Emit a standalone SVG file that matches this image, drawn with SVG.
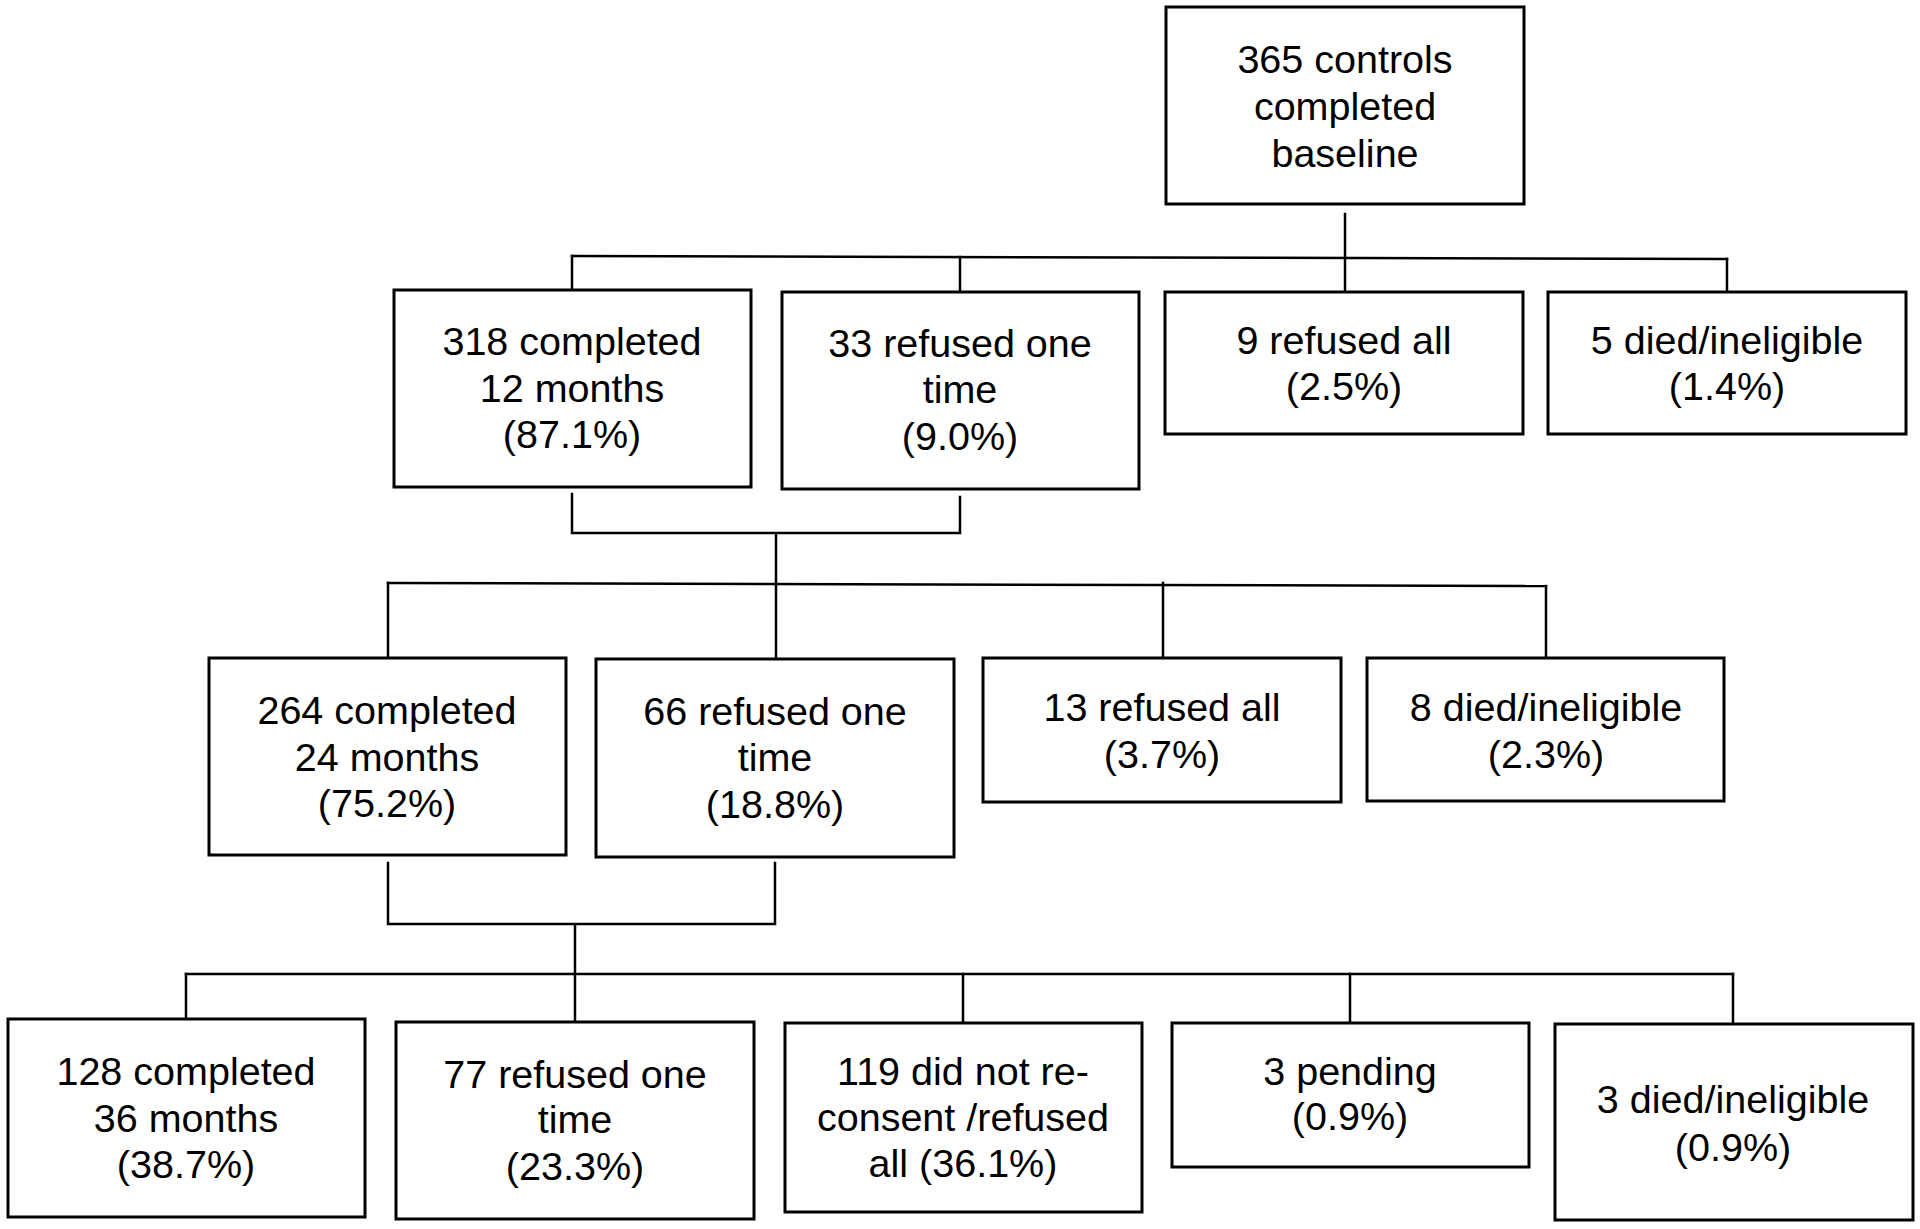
<svg xmlns="http://www.w3.org/2000/svg" width="1920" height="1229" viewBox="0 0 1920 1229">
<style>
.box{fill:#fff;stroke:#000;stroke-width:3}
.c{fill:none;stroke:#000;stroke-width:2.5;stroke-linecap:square}
text{font-family:"Liberation Sans",Arial,sans-serif;font-size:39.5px;fill:#000;text-anchor:middle}
</style>
<rect width="1920" height="1229" fill="#fff"/>
<g id="connectors">
<path class="c" d="M1345 214V292"/>
<path class="c" d="M572 256L1727 259"/>
<path class="c" d="M572 256V290M960 257V292M1727 259V292"/>
<path class="c" d="M572 494V533H960V497M776 533V659"/>
<path class="c" d="M388 583L1546 586"/>
<path class="c" d="M388 583V658M1163 583V658M1546 586V658"/>
<path class="c" d="M388 863V924H775V863M575 924V1022"/>
<path class="c" d="M186 974H1733"/>
<path class="c" d="M186 974V1019M963 974V1023M1350 974V1023M1733 974V1024"/>
</g>
<g id="n_baseline"><rect class="box" x="1166" y="7" width="358" height="197"/>
<text x="1345" y="73">365 controls</text><text x="1345" y="120">completed</text><text x="1345" y="167">baseline</text></g>
<g id="n_318"><rect class="box" x="394" y="290" width="357" height="197"/>
<text x="572" y="355">318 completed</text><text x="572" y="402">12 months</text><text x="572" y="448">(87.1%)</text></g>
<g id="n_33"><rect class="box" x="782" y="292" width="357" height="197"/>
<text x="960" y="357">33 refused one</text><text x="960" y="403">time</text><text x="960" y="450">(9.0%)</text></g>
<g id="n_9"><rect class="box" x="1165" y="292" width="358" height="142"/>
<text x="1344" y="354">9 refused all</text><text x="1344" y="400">(2.5%)</text></g>
<g id="n_5"><rect class="box" x="1548" y="292" width="358" height="142"/>
<text x="1727" y="354">5 died/ineligible</text><text x="1727" y="400">(1.4%)</text></g>
<g id="n_264"><rect class="box" x="209" y="658" width="357" height="197"/>
<text x="387" y="724">264 completed</text><text x="387" y="771">24 months</text><text x="387" y="817">(75.2%)</text></g>
<g id="n_66"><rect class="box" x="596" y="659" width="358" height="198"/>
<text x="775" y="725">66 refused one</text><text x="775" y="771">time</text><text x="775" y="818">(18.8%)</text></g>
<g id="n_13"><rect class="box" x="983" y="658" width="358" height="144"/>
<text x="1162" y="721">13 refused all</text><text x="1162" y="768">(3.7%)</text></g>
<g id="n_8"><rect class="box" x="1367" y="658" width="357" height="143"/>
<text x="1546" y="721">8 died/ineligible</text><text x="1546" y="768">(2.3%)</text></g>
<g id="n_128"><rect class="box" x="8" y="1019" width="357" height="198"/>
<text x="186" y="1085">128 completed</text><text x="186" y="1132">36 months</text><text x="186" y="1178">(38.7%)</text></g>
<g id="n_77"><rect class="box" x="396" y="1022" width="358" height="197"/>
<text x="575" y="1088">77 refused one</text><text x="575" y="1133">time</text><text x="575" y="1180">(23.3%)</text></g>
<g id="n_119"><rect class="box" x="785" y="1023" width="357" height="189"/>
<text x="963" y="1085">119 did not re-</text><text x="963" y="1131">consent /refused</text><text x="963" y="1177">all (36.1%)</text></g>
<g id="n_pending"><rect class="box" x="1172" y="1023" width="357" height="144"/>
<text x="1350" y="1085">3 pending</text><text x="1350" y="1130">(0.9%)</text></g>
<g id="n_3died"><rect class="box" x="1555" y="1024" width="358" height="196"/>
<text x="1733" y="1113">3 died/ineligible</text><text x="1733" y="1161">(0.9%)</text></g>
</svg>
